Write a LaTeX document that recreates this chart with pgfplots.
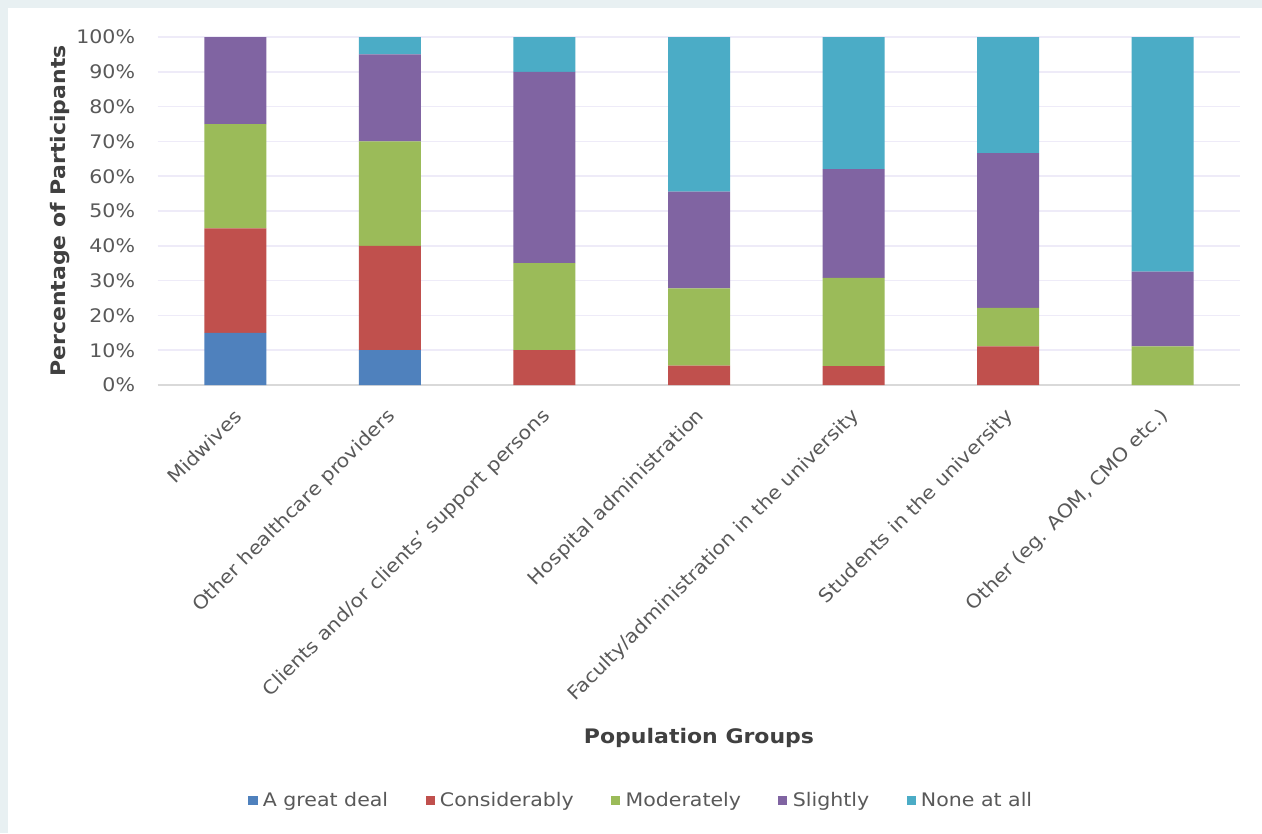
\documentclass[border=0pt]{standalone}
\usepackage{pgfplots}
\pgfplotsset{compat=1.18}
\usepackage{fontspec}
\setmainfont[FakeStretch=1.1]{DejaVu Sans}

\definecolor{cGreat}{HTML}{4F81BD}
\definecolor{cCons}{HTML}{C0504D}
\definecolor{cMod}{HTML}{9BBB59}
\definecolor{cSl}{HTML}{8064A2}
\definecolor{cNone}{HTML}{4BACC6}
\definecolor{frameBg}{HTML}{E8F0F2}
\definecolor{gridLav}{HTML}{EEEBF8}
\definecolor{baseLine}{HTML}{D9D9D9}
\definecolor{tickText}{HTML}{595959}
\definecolor{titleText}{HTML}{404040}

% Share of participants per response level (%), one row per population group
\pgfplotstableread{
x great cons mod sl none
0 15 30   30   25   0
1 10 30   30   25   5
2 0  10   25   55   10
3 0  5.6  22.2 27.8 44.4
4 0  5.4  25.4 31.2 38.0
5 0  11.1 11.1 44.4 33.4
6 0  0    11.1 21.5 67.4
}\groups

\begin{document}
\begin{tikzpicture}
% page background and white chart panel
\path[use as bounding box, fill=frameBg] (-118.5pt,-336pt) rectangle (828pt,288.75pt);
\fill[white] (-112.5pt,-336pt) rectangle (828pt,282.75pt);

\begin{axis}[
  at={(0,0)}, anchor=south west,
  scale only axis,
  width=811.5pt, height=261pt,
  ybar stacked,
  bar width=46.5pt,
  xmin=-0.5, xmax=6.5,
  ymin=0, ymax=100,
  xtick=data,
  xticklabels={Midwives,Other healthcare providers,Clients and/or clients' support persons,Hospital administration,Faculty/administration in the university,Students in the university,{Other (eg. AOM, CMO etc.)}},
  ytick={0,10,...,100},
  yticklabels={0\%,10\%,20\%,30\%,40\%,50\%,60\%,70\%,80\%,90\%,100\%},
  major tick length=0pt,
  axis x line*=bottom,
  axis y line*=left,
  x axis line style={draw=baseLine, line width=1.5pt},
  y axis line style={draw=none},
  ymajorgrids,
  grid style={draw=gridLav, line width=1.1pt},
  tick label style={font=\fontsize{14pt}{16pt}\selectfont, text=tickText},
  yticklabel style={anchor=east, inner sep=0pt, xshift=-17pt},
  xticklabel style={xshift=2pt, yshift=-21pt, rotate=45, anchor=east, inner sep=0pt},
  xlabel={Population Groups},
  ylabel={Percentage of Participants},
  label style={font=\bfseries\fontsize{15pt}{18pt}\selectfont, text=titleText},
  xlabel style={at={(axis description cs:0.5,-1.0144)}, anchor=center},
  ylabel style={at={(axis description cs:-0.0906,0.5)}, anchor=center, rotate=0},
  legend columns=5,
  legend style={
    at={(axis description cs:0.447,-1.193)}, anchor=center,
    draw=none, fill=none,
    font=\fontsize{14pt}{16pt}\selectfont, text=tickText,
    /tikz/every odd column/.append style={column sep=2pt},
    /tikz/every even column/.append style={column sep=26pt},
  },
  legend image code/.code={\fill (0pt,-3.4pt) rectangle (6.8pt,3.4pt);},
]
\addplot+[draw=none, fill=cGreat] table[x=x, y=great] {\groups};
\addplot+[draw=none, fill=cCons]  table[x=x, y=cons]  {\groups};
\addplot+[draw=none, fill=cMod]   table[x=x, y=mod]   {\groups};
\addplot+[draw=none, fill=cSl]    table[x=x, y=sl]    {\groups};
\addplot+[draw=none, fill=cNone]  table[x=x, y=none]  {\groups};
\legend{A great deal,Considerably,Moderately,Slightly,None at all}
\end{axis}
\end{tikzpicture}
\end{document}
